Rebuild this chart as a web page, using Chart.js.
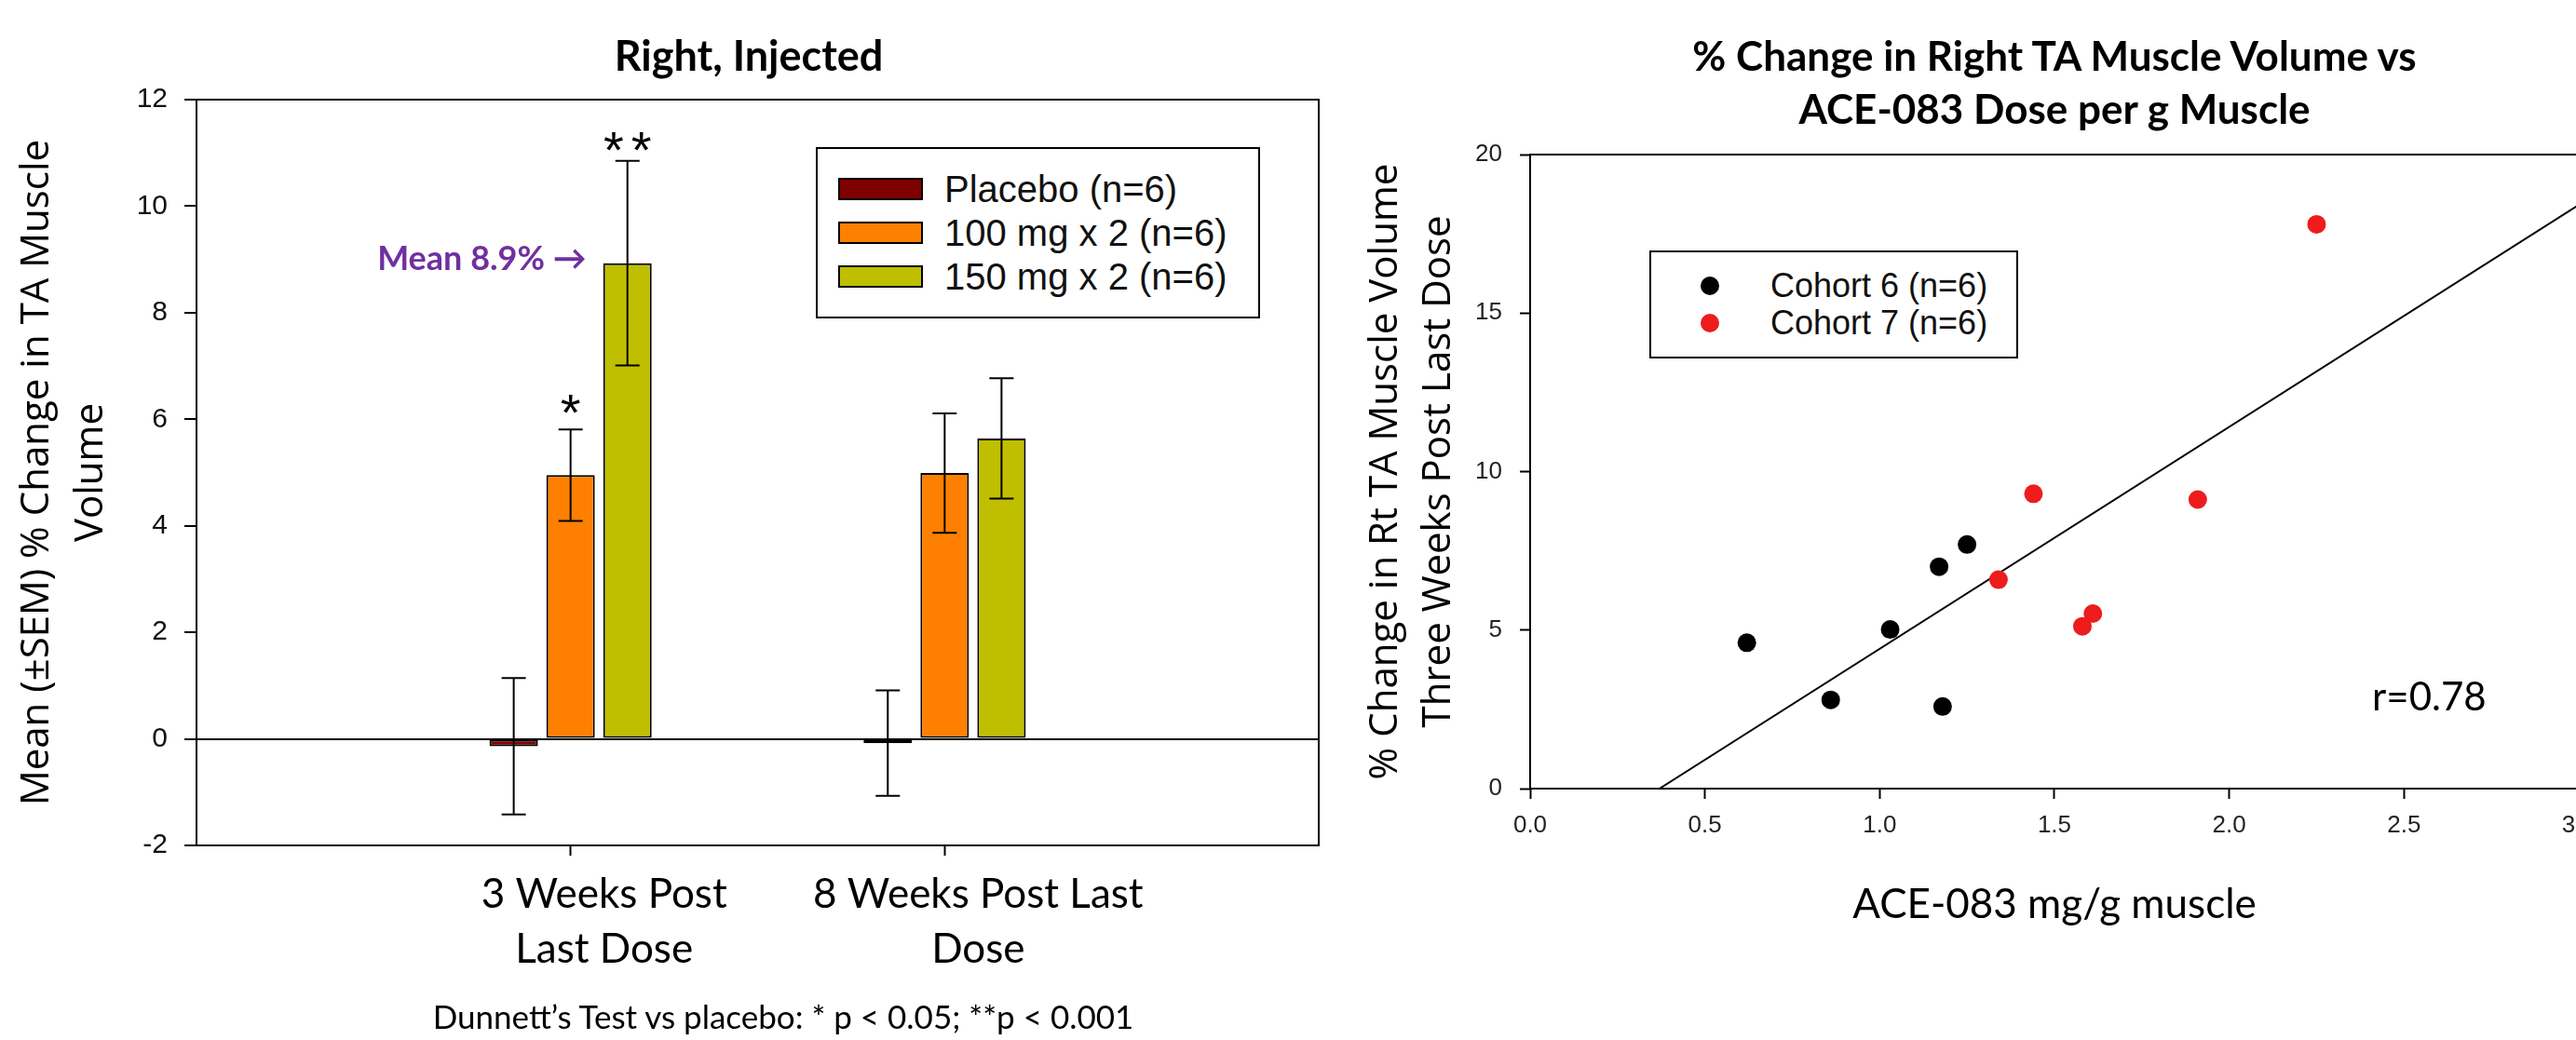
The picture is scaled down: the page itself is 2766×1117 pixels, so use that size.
<!DOCTYPE html>
<html>
<head>
<meta charset="utf-8">
<script src="https://cdn.jsdelivr.net/npm/chart.js@4.4.1/dist/chart.umd.min.js"></script>
<style>
  html, body { margin: 0; padding: 0; background: #fff; }
  body { width: 2766px; height: 1117px; overflow: hidden; position: relative; }
  .txt { position: absolute; white-space: nowrap; color: #000; }
  .legend { position: absolute; border: 2px solid #000; box-sizing: border-box; background: #fff; }
  .legend .item { position: absolute; white-space: nowrap; font-family: "Liberation Sans", Arial, sans-serif; color: #111; }
</style>
</head>
<body>
<div style="position:absolute;left:0;top:0;"><canvas id="barChart" width="1450" height="1117"></canvas></div>
<div style="position:absolute;left:1450px;top:0;"><canvas id="scatterChart" width="1350" height="1117"></canvas></div>

<div class="txt" style="left:804px;top:59px;transform:translate(-50%,-50%);font:bold 45px Lato, sans-serif;">Right, Injected</div>
<div class="txt" style="left:2206px;top:88px;transform:translate(-50%,-50%);font:bold 44px Lato, sans-serif;line-height:57px;text-align:center;">% Change in Right TA Muscle Volume vs<br>ACE-083 Dose per g Muscle</div>
<div class="txt" style="left:841px;top:1091px;transform:translate(-50%,-50%);font:35px Lato, sans-serif;">Dunnett’s Test vs placebo: * p &lt; 0.05; **p &lt; 0.001</div>
<div class="txt" style="left:2547px;top:747px;transform:translateY(-50%);font:42px Lato, sans-serif;">r=0.78</div>

<div id="barLegend" class="legend" style="left:876px;top:158px;width:477px;height:184px;"></div>
<div id="scatterLegend" class="legend" style="left:1771px;top:269px;width:396px;height:116px;"></div>

<script>
// left panel: mean % change (+/- SEM)
const categories = [['3 Weeks Post', 'Last Dose'], ['8 Weeks Post Last', 'Dose']];
const groupNames = ['Placebo (n=6)', '100 mg x 2 (n=6)', '150 mg x 2 (n=6)'];
const groupColors = ['#7f0000', '#ff8000', '#bfbf00'];
const placeboMean = [-0.14, -0.08];
const mg100Mean = [4.95, 4.99];
const mg150Mean = [8.93, 5.64];
const placeboSem = [1.28, 0.99];
const mg100Sem = [0.86, 1.12];
const mg150Sem = [1.92, 1.13];
const barYTicks = [-2, 0, 2, 4, 6, 8, 10, 12];
const starMarks = [[1, 0, '*', 6.35], [2, 0, '**', 11.28]];   // dataset, category, text, y value
const meanNote = [2, 0, 'Mean 8.9% \u2192', 9.0];

// right panel: dose vs change
const cohortNames = ['Cohort 6 (n=6)', 'Cohort 7 (n=6)'];
const cohortColors = ['#000000', '#ee1c1c'];
const cohort6Dose = [0.62, 0.86, 1.03, 1.17, 1.18, 1.25];
const cohort6Change = [4.60, 2.80, 5.02, 7.00, 2.59, 7.70];
const cohort7Dose = [1.34, 1.44, 1.58, 1.61, 1.91, 2.25];
const cohort7Change = [6.59, 9.30, 5.12, 5.52, 9.12, 17.8];
const fitDose = [0.37, 3.0];
const fitChange = [0, 18.41];
const scatterXTicks = [0, 0.5, 1, 1.5, 2, 2.5, 3];
const scatterYTicks = [0, 5, 10, 15, 20];

const pad = arr => [null, ...arr, null];
const clear = 'rgba(0,0,0,0)';

const boxPlugin = {
  id: 'box',
  afterDraw(chart) {
    const a = chart.chartArea, ctx = chart.ctx;
    ctx.save();
    ctx.strokeStyle = '#000';
    ctx.lineWidth = 2;
    ctx.strokeRect(a.left, a.top, a.right - a.left, a.bottom - a.top);
    ctx.restore();
  }
};

const errorBarPlugin = {
  id: 'errorBars',
  afterDatasetsDraw(chart) {
    const ctx = chart.ctx, y = chart.scales.y;
    ctx.save();
    ctx.strokeStyle = '#000';
    ctx.lineWidth = 2;
    chart.data.datasets.forEach((ds, i) => {
      chart.getDatasetMeta(i).data.forEach((bar, j) => {
        const m = ds.data[j];
        if (m == null) return;
        const top = y.getPixelForValue(m + ds.sem[j]);
        const bot = y.getPixelForValue(m - ds.sem[j]);
        ctx.beginPath();
        ctx.moveTo(bar.x, top); ctx.lineTo(bar.x, bot);
        ctx.moveTo(bar.x - 13, top); ctx.lineTo(bar.x + 13, top);
        ctx.moveTo(bar.x - 13, bot); ctx.lineTo(bar.x + 13, bot);
        ctx.stroke();
      });
    });

    // significance stars
    ctx.fillStyle = '#000';
    ctx.font = '56px "Liberation Sans", Arial, sans-serif';
    ctx.textAlign = 'center';
    ctx.textBaseline = 'alphabetic';
    ctx.letterSpacing = '8px';
    starMarks.forEach(s => {
      const bar = chart.getDatasetMeta(s[0]).data[s[1] + 1];
      ctx.fillText(s[2], bar.x + 4, y.getPixelForValue(s[3]) + 32);
    });
    ctx.letterSpacing = '0px';

    // mean callout
    const bar = chart.getDatasetMeta(meanNote[0]).data[meanNote[1] + 1];
    ctx.fillStyle = '#7030a0';
    ctx.font = 'bold 36px Lato, sans-serif';
    ctx.textAlign = 'right';
    ctx.textBaseline = 'middle';
    ctx.fillText(meanNote[2], bar.x - bar.width / 2 - 18, y.getPixelForValue(meanNote[3]));
    ctx.restore();
  }
};

const barChart = new Chart(document.getElementById('barChart'), {
  type: 'bar',
  data: {
    labels: ['', ...categories, ''],
    datasets: [
      { label: groupNames[0], data: pad(placeboMean), sem: pad(placeboSem), backgroundColor: groupColors[0] },
      { label: groupNames[1], data: pad(mg100Mean), sem: pad(mg100Sem), backgroundColor: groupColors[1] },
      { label: groupNames[2], data: pad(mg150Mean), sem: pad(mg150Sem), backgroundColor: groupColors[2] }
    ].map(d => Object.assign(d, { borderColor: '#000', borderWidth: 2, borderSkipped: false,
      categoryPercentage: 0.456, barPercentage: 0.852 }))
  },
  options: {
    responsive: false,
    animation: false,
    events: [],
    layout: { padding: { left: 0, right: 34, top: 107, bottom: 0 } },
    plugins: { legend: { display: false }, tooltip: { enabled: false } },
    scales: {
      x: {
        type: 'category',
        offset: false,
        grid: { offset: false, drawOnChartArea: false, tickLength: 11, tickWidth: 2,
          tickColor: c => (c.index === 0 || c.index === 3) ? clear : '#000' },
        border: { display: false },
        ticks: { font: { family: 'Lato', size: 44, lineHeight: 1.34 }, color: '#000',
          padding: 12, labelOffset: 36, maxRotation: 0, autoSkip: false },
        afterFit: s => { s.height = 209; }
      },
      y: {
        min: -2, max: 12,
        afterBuildTicks: s => { s.ticks = barYTicks.map(v => ({ value: v })); },
        grid: { color: c => (c.tick && c.tick.value === 0) ? '#000' : clear, lineWidth: 2,
          tickColor: '#000', tickLength: 13, tickWidth: 2 },
        border: { display: false },
        ticks: { font: { family: 'Liberation Sans', size: 30 }, color: '#111', padding: 18 },
        title: { display: true, text: ['Mean (\u00b1SEM) % Change in TA Muscle', 'Volume'],
          font: { family: 'Open Sans', size: 42, lineHeight: 1.38 }, color: '#000',
          padding: { top: 11, bottom: 0 } },
        afterFit: s => { s.width = 211; }
      }
    }
  },
  plugins: [errorBarPlugin, boxPlugin]
});

const scatterChart = new Chart(document.getElementById('scatterChart'), {
  type: 'scatter',
  data: {
    datasets: [
      { label: cohortNames[0], data: cohort6Dose.map((x, i) => ({ x, y: cohort6Change[i] })),
        backgroundColor: cohortColors[0], borderColor: cohortColors[0], pointRadius: 10, pointBorderWidth: 0 },
      { label: cohortNames[1], data: cohort7Dose.map((x, i) => ({ x, y: cohort7Change[i] })),
        backgroundColor: cohortColors[1], borderColor: cohortColors[1], pointRadius: 10, pointBorderWidth: 0 },
      { type: 'line', label: 'fit', data: fitDose.map((x, i) => ({ x, y: fitChange[i] })),
        borderColor: '#000', borderWidth: 2, pointRadius: 0, fill: false }
    ]
  },
  options: {
    responsive: false,
    animation: false,
    events: [],
    layout: { padding: { left: 0, right: 29, top: 166, bottom: 0 } },
    plugins: { legend: { display: false }, tooltip: { enabled: false } },
    scales: {
      x: {
        type: 'linear', min: 0, max: 3,
        afterBuildTicks: s => { s.ticks = scatterXTicks.map(v => ({ value: v })); },
        grid: { drawOnChartArea: false, tickLength: 11, tickWidth: 2, tickColor: '#000' },
        border: { display: false },
        ticks: { callback: v => v.toFixed(1), font: { family: 'Liberation Sans', size: 26 },
          color: '#222', padding: 13, maxRotation: 0 },
        title: { display: true, text: 'ACE-083 mg/g muscle', font: { family: 'Lato', size: 44 },
          color: '#000', padding: { top: 0, bottom: 119 } },
        afterFit: s => { s.height = 270; }
      },
      y: {
        min: 0, max: 20,
        afterBuildTicks: s => { s.ticks = scatterYTicks.map(v => ({ value: v })); },
        grid: { drawOnChartArea: false, tickLength: 11, tickWidth: 2, tickColor: '#000' },
        border: { display: false },
        ticks: { font: { family: 'Liberation Sans', size: 26 }, color: '#222', padding: 19 },
        title: { display: true, text: ['% Change in Rt TA Muscle Volume', 'Three Weeks Post Last Dose'],
          font: { family: 'Open Sans', size: 42, lineHeight: 1.357 }, color: '#000',
          padding: { top: 9.5, bottom: 0 } },
        afterFit: s => { s.width = 193; }
      }
    }
  },
  plugins: [boxPlugin]
});

// legends built from the chart datasets
function addItem(box, html, left, centerY, fontSize) {
  const el = document.createElement('div');
  el.className = 'item';
  el.style.left = left + 'px';
  el.style.top = centerY + 'px';
  el.style.transform = 'translateY(-50%)';
  el.style.fontSize = fontSize + 'px';
  el.innerHTML = html;
  box.appendChild(el);
}
const barBox = document.getElementById('barLegend');
barChart.data.datasets.forEach((ds, i) => {
  const cy = 43 + i * 47;
  addItem(barBox, `<div style="width:91px;height:24px;border:2px solid #000;box-sizing:border-box;background:${ds.backgroundColor}"></div>`, 22, cy, 40);
  addItem(barBox, ds.label, 136, cy, 40);
});
const scBox = document.getElementById('scatterLegend');
scatterChart.data.datasets.slice(0, 2).forEach((ds, i) => {
  const cy = 36 + i * 40;
  addItem(scBox, `<div style="width:20px;height:20px;border-radius:50%;background:${ds.backgroundColor}"></div>`, 53, cy, 36);
  addItem(scBox, ds.label, 128, cy, 36);
});
</script>
</body>
</html>
